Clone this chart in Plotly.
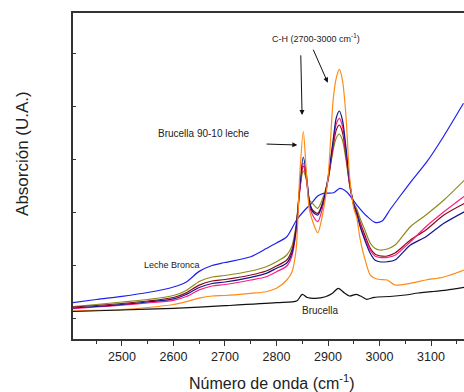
import plotly.graph_objects as go

# Wavenumbers (cm^-1) for the milk / mixture spectra
wn_main = [2405, 2450, 2500, 2550, 2600, 2625, 2650, 2675, 2700, 2750, 2780, 2800, 2820, 2830,
           2838, 2845, 2852, 2858, 2864, 2870, 2880, 2890, 2900, 2910, 2916, 2922, 2928, 2935,
           2942, 2950, 2956, 2962, 2970, 2982, 2991, 3000, 3015, 3030, 3060, 3090, 3125, 3165]

olive = [0.217, 0.255, 0.302, 0.349, 0.425, 0.520, 0.690, 0.774, 0.802, 0.887, 0.968, 1.062, 1.189, 1.358,
         1.755, 2.415, 2.774, 2.604, 2.226, 2.164, 2.070, 2.264, 2.604, 3.170, 3.396, 3.472, 3.358, 2.981,
         2.509, 2.170, 2.057, 1.887, 1.698, 1.415, 1.315, 1.283, 1.302, 1.377, 1.723, 1.943, 2.226, 2.604]

darkred = [0.208, 0.236, 0.274, 0.321, 0.387, 0.475, 0.620, 0.698, 0.726, 0.811, 0.887, 0.981, 1.094, 1.283,
           1.698, 2.415, 2.868, 2.642, 2.189, 2.038, 1.975, 2.189, 2.604, 3.245, 3.547, 3.642, 3.509, 3.057,
           2.528, 2.151, 2.000, 1.811, 1.604, 1.315, 1.208, 1.175, 1.170, 1.226, 1.472, 1.660, 1.943, 2.164]

navy = [0.189, 0.217, 0.255, 0.302, 0.362, 0.445, 0.575, 0.651, 0.679, 0.768, 0.843, 0.938, 1.038, 1.226,
        1.660, 2.453, 3.038, 2.717, 2.189, 2.006, 1.943, 2.170, 2.642, 3.358, 3.774, 3.906, 3.736, 3.208,
        2.566, 2.132, 1.962, 1.736, 1.509, 1.221, 1.094, 1.062, 1.062, 1.094, 1.377, 1.534, 1.787, 2.006]

pink = [0.179, 0.208, 0.242, 0.283, 0.334, 0.405, 0.530, 0.604, 0.632, 0.717, 0.779, 0.874, 0.981, 1.170,
        1.623, 2.377, 2.925, 2.642, 2.113, 1.943, 1.817, 2.100, 2.604, 3.302, 3.660, 3.768, 3.623, 3.132,
        2.528, 2.113, 1.925, 1.774, 1.547, 1.283, 1.170, 1.145, 1.145, 1.183, 1.440, 1.723, 2.006, 2.302]

orange = [0.136, 0.145, 0.160, 0.198, 0.255, 0.310, 0.375, 0.415, 0.425, 0.466, 0.496, 0.560, 0.717, 0.868,
          1.283, 2.666, 3.515, 2.755, 2.038, 1.830, 1.609, 1.981, 2.642, 4.113, 4.528, 4.692, 4.491, 3.798,
          2.660, 2.075, 1.887, 1.509, 1.170, 0.811, 0.749, 0.726, 0.717, 0.623, 0.655, 0.717, 0.774, 0.906]

# Leche Bronca (raw milk)
wn_blue = [2405, 2450, 2500, 2550, 2600, 2625, 2650, 2675, 2700, 2750, 2781, 2800, 2820, 2839, 2855,
           2868, 2880, 2891, 2911, 2923, 2936, 2956, 2975, 2991, 3005, 3020, 3040, 3059, 3092, 3124, 3163]
blue = [0.289, 0.349, 0.409, 0.481, 0.585, 0.680, 0.880, 0.990, 1.047, 1.157, 1.315, 1.415, 1.534, 1.849, 2.038,
        2.164, 2.302, 2.353, 2.364, 2.447, 2.383, 2.132, 1.925, 1.806, 1.830, 2.038, 2.302, 2.547, 2.949, 3.421, 4.051]

# Brucella
wn_black = [2405, 2500, 2600, 2700, 2800, 2840, 2850, 2860, 2875, 2895, 2908, 2920, 2932, 2942, 2955,
            2965, 2975, 2990, 3020, 3050, 3075, 3100, 3130, 3165]
black = [0.123, 0.151, 0.183, 0.232, 0.289, 0.326, 0.447, 0.387, 0.372, 0.402, 0.462, 0.560, 0.472, 0.415, 0.447,
         0.406, 0.353, 0.391, 0.406, 0.434, 0.472, 0.496, 0.528, 0.579]

x_ticks = [2500, 2600, 2700, 2800, 2900, 3000, 3100]
y_ticks = [0, 1, 2, 3, 4, 5]

series = [
    (wn_blue, blue, "#2020F0"),
    (wn_main, olive, "#8C8C1E"),
    (wn_main, darkred, "#8B0A1A"),
    (wn_main, pink, "#FF1C7C"),
    (wn_main, navy, "#14148C"),
    (wn_main, orange, "#FF8A14"),
    (wn_black, black, "#111111"),
]

fig = go.Figure()
for xs, ys, col in series:
    fig.add_trace(go.Scatter(x=xs, y=ys, mode="lines",
                             line=dict(color=col, width=1.2, shape="spline", smoothing=0.8),
                             showlegend=False, hoverinfo="skip"))

font_fam = "Liberation Sans, Arial, sans-serif"
txt_col = "#222222"

fig.update_layout(
    width=464, height=392,
    margin=dict(l=73, r=0, t=13, b=53),
    paper_bgcolor="white", plot_bgcolor="white",
    font=dict(family=font_fam, color=txt_col),
    xaxis=dict(range=[2405, 3164], tickvals=x_ticks, ticks="outside", ticklen=5, tickwidth=1,
               tickcolor="#333", showline=True, linecolor="#333", linewidth=1.5, mirror=True,
               showgrid=False, zeroline=False, tickfont=dict(size=12.5, color=txt_col),
               minor=dict(dtick=100, tick0=2450, ticks="outside", ticklen=3, tickcolor="#333", showgrid=False)),
    yaxis=dict(range=[-0.396, 5.755], tickvals=y_ticks, ticks="inside", ticklen=3, tickcolor="#333",
               showticklabels=False, showline=True, linecolor="#333", linewidth=1.8, mirror=False,
               showgrid=False, zeroline=False),
)

anns = [
    dict(x=0.508, y=-0.133, xref="paper", yref="paper", text="Número de onda (cm<sup>-1</sup>)",
         showarrow=False, font=dict(size=16), xanchor="center", yanchor="middle"),
    dict(x=-0.131, y=0.57, xref="paper", yref="paper", text="Absorción (U.A.)", textangle=-90,
         showarrow=False, font=dict(size=17), xanchor="center", yanchor="middle"),
    dict(x=2877, y=5.29, xref="x", yref="y", text="C-H (2700-3000 cm<sup>-1</sup>)",
         showarrow=False, font=dict(size=9), xanchor="center", yanchor="middle"),
    dict(x=2659, y=3.477, xref="x", yref="y", text="Brucella 90-10 leche",
         showarrow=False, font=dict(size=10), xanchor="center", yanchor="middle"),
    dict(x=2597, y=0.996, xref="x", yref="y", text="Leche Bronca",
         showarrow=False, font=dict(size=9), xanchor="center", yanchor="middle"),
    dict(x=2885, y=0.134, xref="x", yref="y", text="Brucella",
         showarrow=False, font=dict(size=10), xanchor="center", yanchor="middle"),
    # arrows
    dict(x=2849.7, y=3.83, ax=2847.1, ay=4.994, xref="x", yref="y", axref="x", ayref="y", text=" ",
         showarrow=True, arrowhead=2, arrowsize=1, arrowwidth=1, arrowcolor="#111", font=dict(size=1)),
    dict(x=2899.6, y=4.44, ax=2869.7, ay=5.10, xref="x", yref="y", axref="x", ayref="y", text=" ",
         showarrow=True, arrowhead=2, arrowsize=1, arrowwidth=1, arrowcolor="#111", font=dict(size=1)),
    dict(x=2840.5, y=3.264, ax=2777.8, ay=3.283, xref="x", yref="y", axref="x", ayref="y", text=" ",
         showarrow=True, arrowhead=2, arrowsize=1, arrowwidth=1, arrowcolor="#111", font=dict(size=1)),
]
fig.update_layout(annotations=anns)

fig.write_html("out.html", config={"displayModeBar": False},
               post_script="document.body.style.margin='0px';")
